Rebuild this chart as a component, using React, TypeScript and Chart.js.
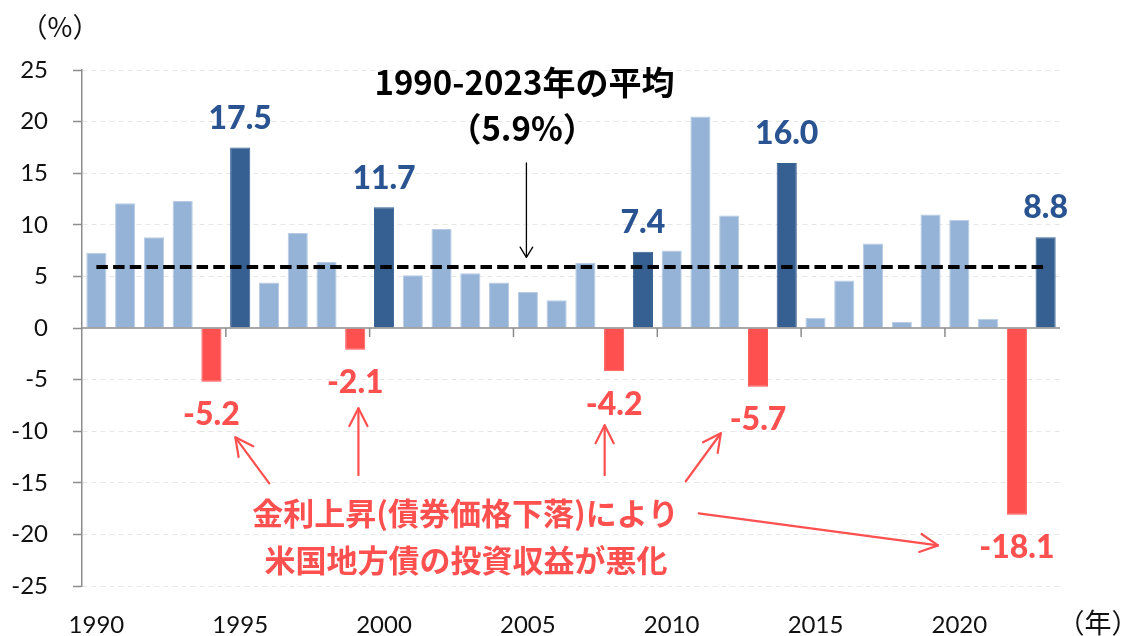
import React, { useEffect, useRef } from "react";
import { Chart, registerables } from "chart.js";

Chart.register(...registerables);

// ---------------- data ----------------
const years: number[] = [
  1990, 1991, 1992, 1993, 1994, 1995, 1996, 1997, 1998, 1999,
  2000, 2001, 2002, 2003, 2004, 2005, 2006, 2007, 2008, 2009,
  2010, 2011, 2012, 2013, 2014, 2015, 2016, 2017, 2018, 2019,
  2020, 2021, 2022, 2023,
];
const returns: number[] = [
  7.3, 12.1, 8.8, 12.3, -5.2, 17.5, 4.4, 9.2, 6.4, -2.1,
  11.7, 5.1, 9.6, 5.3, 4.4, 3.5, 2.7, 6.3, -4.2, 7.4,
  7.5, 20.5, 10.9, -5.7, 16.0, 1.0, 4.6, 8.2, 0.6, 11.0,
  10.5, 0.9, -18.1, 8.8,
];
const highlightYears: number[] = [1995, 2000, 2009, 2014, 2023];
const averageReturn = 5.9;
const yMin = -25;
const yMax = 25;
const yStep = 5;
const xLabelEvery = 5;

const yUnitLabel = "（%）";
const xUnitLabel = "（年）";
const averageLines: string[] = ["1990-2023年の平均", "（5.9%）"];
const causeLines: string[] = ["金利上昇(債券価格下落)により", "米国地方債の投資収益が悪化"];

// annotation anchors in data coordinates [category index, value]
const averageTextAnchors: [number, number][] = [[14.88, 23.8], [14.8, 19.35]];
const averageArrow: [number, number][] = [[14.95, 16.0], [14.95, 6.85]];
const causeTextAnchors: [number, number][] = [[12.83, -17.96], [12.85, -22.5]];
const causeArrows: [number, number][][] = [
  [[6.01, -15.05], [4.83, -10.59]],
  [[9.11, -14.27], [9.11, -7.78]],
  [[17.67, -14.27], [17.67, -9.43]],
  [[20.49, -14.85], [21.71, -10.2]],
  [[20.94, -17.96], [29.26, -21.06]],
];

// ---------------- styles ----------------
const LIGHT = "#95B3D7";
const LIGHT_EDGE = "#B8CCE4";
const DARK = "#366092";
const RED = "#FF5050";
const LABEL_BLUE = "#2A5491";
const AXIS = "#8C8C8C";
const GRID = "#E6E6E6";
const NUM_FONT = "Lato, 'Noto Sans', sans-serif";
const JP_FONT = "'Noto Sans CJK JP', 'Noto Sans', sans-serif";

function drawArrow(
  ctx: CanvasRenderingContext2D,
  x1: number, y1: number, x2: number, y2: number,
  color: string, width: number, head: number, angle: number
) {
  ctx.save();
  ctx.strokeStyle = color;
  ctx.lineWidth = width;
  ctx.lineCap = "round";
  ctx.lineJoin = "round";
  ctx.setLineDash([]);
  ctx.beginPath();
  ctx.moveTo(x1, y1);
  ctx.lineTo(x2, y2);
  ctx.stroke();
  const a = Math.atan2(y2 - y1, x2 - x1);
  ctx.beginPath();
  ctx.moveTo(x2 - head * Math.cos(a - angle), y2 - head * Math.sin(a - angle));
  ctx.lineTo(x2, y2);
  ctx.lineTo(x2 - head * Math.cos(a + angle), y2 - head * Math.sin(a + angle));
  ctx.stroke();
  ctx.restore();
}

const overlayPlugin = {
  id: "overlay",
  afterDatasetsDraw(chart: any) {
    const { ctx, chartArea } = chart;
    const xs = chart.scales.x;
    const ys = chart.scales.y;
    const px = (i: number) => xs.getPixelForValue(i);
    const py = (v: number) => ys.getPixelForValue(v);
    ctx.save();

    // zero axis line with tick marks every 5 categories
    const y0 = py(0);
    ctx.strokeStyle = AXIS;
    ctx.lineWidth = 1.5;
    ctx.setLineDash([]);
    ctx.beginPath();
    ctx.moveTo(chartArea.left, y0);
    ctx.lineTo(chartArea.right, y0);
    for (let k = xLabelEvery; k < years.length; k += xLabelEvery) {
      const bx = px(k - 0.5);
      ctx.moveTo(bx, y0);
      ctx.lineTo(bx, y0 + 9);
    }
    ctx.stroke();

    // data labels
    const meta = chart.getDatasetMeta(0);
    ctx.font = `900 32px ${NUM_FONT}`;
    ctx.textAlign = "center";
    ctx.textBaseline = "middle";
    meta.data.forEach((bar: any, i: number) => {
      const v = returns[i];
      const txt = v.toFixed(1);
      if (v < 0) {
        ctx.fillStyle = RED;
        ctx.fillText(txt, bar.x, bar.y + 33);
      } else if (highlightYears.includes(years[i])) {
        ctx.fillStyle = LABEL_BLUE;
        ctx.fillText(txt, bar.x, bar.y - 29);
      }
    });

    // average annotation
    ctx.fillStyle = "#000";
    ctx.font = `bold 33px ${JP_FONT}`;
    averageLines.forEach((t, i) => {
      const [ix, v] = averageTextAnchors[i];
      ctx.fillText(t, px(ix), py(v));
    });
    drawArrow(
      ctx,
      px(averageArrow[0][0]), py(averageArrow[0][1]),
      px(averageArrow[1][0]), py(averageArrow[1][1]),
      "#000", 1.3, 12, 0.55
    );

    // cause annotation
    ctx.fillStyle = RED;
    ctx.font = `bold 31px ${JP_FONT}`;
    causeLines.forEach((t, i) => {
      const [ix, v] = causeTextAnchors[i];
      ctx.fillText(t, px(ix), py(v));
    });
    causeArrows.forEach(([from, to]) => {
      drawArrow(ctx, px(from[0]), py(from[1]), px(to[0]), py(to[1]), RED, 2.2, 20, 0.47);
    });

    // unit labels
    ctx.fillStyle = "#111";
    ctx.font = `27px ${JP_FONT}`;
    ctx.fillText(yUnitLabel, chartArea.left - 22, chartArea.top - 43);
    ctx.fillText(xUnitLabel, chartArea.right + 38, chartArea.bottom + 37);

    ctx.restore();
  },
};

export default function App() {
  const canvasRef = useRef<HTMLCanvasElement | null>(null);

  useEffect(() => {
    document.body.style.margin = "0";
    const canvas = canvasRef.current;
    if (!canvas) return;

    const barColors = returns.map((v, i) =>
      v < 0 ? RED : highlightYears.includes(years[i]) ? DARK : LIGHT
    );
    const barBorders = returns.map((v, i) =>
      v < 0 ? RED : highlightYears.includes(years[i]) ? DARK : LIGHT_EDGE
    );

    const chart = new Chart(canvas, {
      type: "bar",
      data: {
        labels: years.map(String),
        datasets: [
          {
            type: "bar",
            data: returns,
            backgroundColor: barColors,
            borderColor: barBorders,
            borderWidth: 1,
            barPercentage: 0.7,
            categoryPercentage: 1.0,
            order: 1,
          },
          {
            type: "line",
            data: years.map(() => averageReturn),
            borderColor: "#000",
            borderWidth: 4,
            borderDash: [11.5, 5.2],
            pointRadius: 0,
            fill: false,
            order: 0,
          },
        ],
      } as any,
      options: {
        responsive: false,
        animation: false,
        devicePixelRatio: 1,
        layout: { padding: { left: 0, right: 65, top: 70, bottom: 0 } },
        plugins: {
          legend: { display: false },
          tooltip: { enabled: false },
        },
        scales: {
          x: {
            offset: true,
            grid: { display: false, drawTicks: false },
            border: { display: false },
            ticks: {
              autoSkip: false,
              maxRotation: 0,
              minRotation: 0,
              padding: 25,
              color: "#111",
              font: { family: NUM_FONT, size: 24 },
              callback: (_v: any, i: number) =>
                years[i] % xLabelEvery === 0 ? String(years[i]) : "",
            },
            afterFit: (s: any) => {
              s.height = 50;
            },
          },
          y: {
            min: yMin,
            max: yMax,
            ticks: {
              stepSize: yStep,
              padding: 25,
              color: "#111",
              font: { family: NUM_FONT, size: 24 },
            },
            grid: {
              color: (c: any) => (c.tick && c.tick.value === 0 ? "rgba(0,0,0,0)" : GRID),
              lineWidth: 1,
              tickColor: AXIS,
              tickLength: 9,
              tickWidth: 1.5,
            },
            border: { display: true, color: AXIS, width: 1.5, dash: [5, 4] },
            afterFit: (s: any) => {
              s.width = 82;
            },
          },
        },
      } as any,
      plugins: [overlayPlugin],
    });

    return () => chart.destroy();
  }, []);

  return (
    <div style={{ position: "absolute", left: 0, top: 0, width: 1125, height: 636, background: "#fff" }}>
      <canvas ref={canvasRef} width={1125} height={636} style={{ width: 1125, height: 636 }} />
    </div>
  );
}
